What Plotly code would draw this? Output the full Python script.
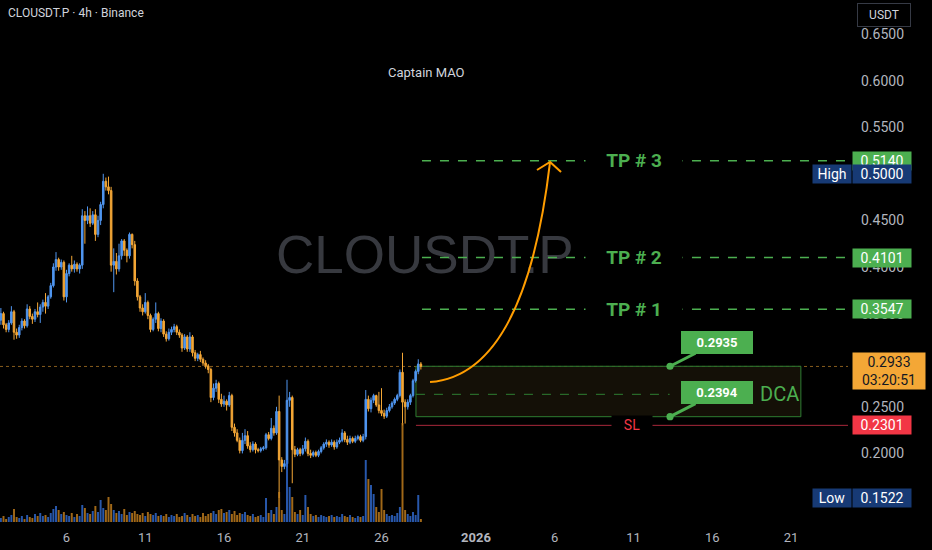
import pandas as pd
import plotly.graph_objects as go

# 4h candles, CLOUSDT.P (Binance)
opens = [
    0.343, 0.350, 0.338, 0.333, 0.340, 0.352, 0.330, 0.327, 0.335, 0.342,
    0.337, 0.355, 0.347, 0.344, 0.352, 0.349, 0.357, 0.362, 0.358, 0.368,
    0.380, 0.400, 0.408, 0.400, 0.405, 0.368, 0.393, 0.402, 0.398, 0.403,
    0.398, 0.402, 0.455, 0.450, 0.455, 0.447, 0.456, 0.435, 0.450, 0.467,
    0.492, 0.486, 0.482, 0.402, 0.406, 0.398, 0.412, 0.428, 0.418, 0.412,
    0.435, 0.424, 0.385, 0.368, 0.356, 0.352, 0.362, 0.348, 0.333, 0.344,
    0.350, 0.334, 0.342, 0.328, 0.323, 0.330, 0.333, 0.336, 0.330, 0.327,
    0.313, 0.325, 0.312, 0.325, 0.308, 0.302, 0.306, 0.301, 0.297, 0.294,
    0.290, 0.260, 0.270, 0.275, 0.258, 0.253, 0.256, 0.252, 0.262, 0.228,
    0.222, 0.214, 0.203, 0.214, 0.219, 0.208, 0.204, 0.210, 0.204, 0.203,
    0.205, 0.206, 0.220, 0.216, 0.227, 0.222, 0.245, 0.193, 0.186, 0.189,
    0.257, 0.260, 0.204, 0.199, 0.204, 0.200, 0.205, 0.213, 0.200, 0.198,
    0.201, 0.198, 0.202, 0.206, 0.210, 0.212, 0.209, 0.212, 0.207, 0.212,
    0.214, 0.222, 0.215, 0.212, 0.216, 0.213, 0.216, 0.218, 0.214, 0.218,
    0.258, 0.248, 0.257, 0.262, 0.252, 0.246, 0.243, 0.240, 0.246, 0.250,
    0.254, 0.258, 0.262, 0.287, 0.255, 0.250, 0.255, 0.262, 0.278, 0.288,
    0.296,
]
highs = [
    0.356, 0.352, 0.340, 0.343, 0.358, 0.354, 0.334, 0.338, 0.345, 0.344,
    0.360, 0.358, 0.350, 0.355, 0.362, 0.360, 0.365, 0.372, 0.370, 0.383,
    0.404, 0.416, 0.410, 0.408, 0.407, 0.397, 0.404, 0.412, 0.407, 0.405,
    0.404, 0.462, 0.460, 0.465, 0.463, 0.460, 0.462, 0.455, 0.470, 0.500,
    0.496, 0.497, 0.486, 0.420, 0.415, 0.425, 0.430, 0.430, 0.420, 0.437,
    0.436, 0.428, 0.388, 0.370, 0.360, 0.372, 0.364, 0.350, 0.346, 0.362,
    0.352, 0.345, 0.344, 0.331, 0.334, 0.336, 0.339, 0.338, 0.333, 0.329,
    0.328, 0.327, 0.330, 0.327, 0.311, 0.308, 0.310, 0.303, 0.300, 0.296,
    0.292, 0.275, 0.279, 0.277, 0.264, 0.262, 0.258, 0.266, 0.264, 0.232,
    0.226, 0.217, 0.222, 0.226, 0.224, 0.212, 0.213, 0.212, 0.206, 0.207,
    0.208, 0.222, 0.223, 0.238, 0.230, 0.250, 0.262, 0.196, 0.193, 0.279,
    0.266, 0.262, 0.208, 0.206, 0.206, 0.209, 0.217, 0.215, 0.204, 0.203,
    0.203, 0.204, 0.208, 0.212, 0.215, 0.214, 0.215, 0.214, 0.215, 0.217,
    0.226, 0.224, 0.219, 0.219, 0.218, 0.219, 0.220, 0.220, 0.221, 0.268,
    0.262, 0.260, 0.264, 0.263, 0.266, 0.270, 0.247, 0.249, 0.253, 0.256,
    0.260, 0.264, 0.290, 0.308, 0.258, 0.258, 0.264, 0.280, 0.290, 0.301,
    0.298,
]
lows = [
    0.338, 0.334, 0.330, 0.330, 0.338, 0.322, 0.323, 0.324, 0.332, 0.334,
    0.335, 0.344, 0.339, 0.341, 0.346, 0.340, 0.352, 0.350, 0.355, 0.366,
    0.378, 0.396, 0.396, 0.397, 0.364, 0.362, 0.390, 0.395, 0.394, 0.395,
    0.393, 0.398, 0.425, 0.446, 0.443, 0.445, 0.428, 0.432, 0.445, 0.463,
    0.482, 0.478, 0.395, 0.373, 0.392, 0.395, 0.408, 0.412, 0.405, 0.409,
    0.420, 0.380, 0.364, 0.352, 0.348, 0.350, 0.344, 0.330, 0.331, 0.340,
    0.331, 0.330, 0.325, 0.320, 0.321, 0.327, 0.330, 0.327, 0.324, 0.309,
    0.311, 0.309, 0.309, 0.304, 0.299, 0.299, 0.298, 0.294, 0.291, 0.286,
    0.255, 0.257, 0.266, 0.254, 0.250, 0.250, 0.246, 0.250, 0.224, 0.218,
    0.212, 0.200, 0.200, 0.210, 0.205, 0.201, 0.202, 0.200, 0.201, 0.201,
    0.203, 0.204, 0.214, 0.214, 0.219, 0.220, 0.1522, 0.180, 0.183, 0.185,
    0.250, 0.168, 0.196, 0.197, 0.197, 0.198, 0.202, 0.197, 0.195, 0.196,
    0.196, 0.196, 0.200, 0.204, 0.207, 0.206, 0.207, 0.204, 0.205, 0.210,
    0.212, 0.212, 0.209, 0.210, 0.211, 0.211, 0.214, 0.212, 0.212, 0.215,
    0.245, 0.244, 0.254, 0.250, 0.243, 0.240, 0.237, 0.238, 0.244, 0.248,
    0.252, 0.256, 0.260, 0.230, 0.232, 0.247, 0.252, 0.260, 0.276, 0.285,
    0.290,
]
closes = [
    0.350, 0.338, 0.333, 0.340, 0.352, 0.330, 0.327, 0.335, 0.342, 0.337,
    0.355, 0.347, 0.344, 0.352, 0.349, 0.357, 0.362, 0.358, 0.368, 0.380,
    0.400, 0.408, 0.400, 0.405, 0.368, 0.393, 0.402, 0.398, 0.403, 0.398,
    0.402, 0.455, 0.450, 0.455, 0.447, 0.456, 0.435, 0.450, 0.467, 0.492,
    0.486, 0.482, 0.402, 0.406, 0.398, 0.412, 0.428, 0.418, 0.412, 0.435,
    0.424, 0.385, 0.368, 0.356, 0.352, 0.362, 0.348, 0.333, 0.344, 0.350,
    0.334, 0.342, 0.328, 0.323, 0.330, 0.333, 0.336, 0.330, 0.327, 0.313,
    0.325, 0.312, 0.325, 0.308, 0.302, 0.306, 0.301, 0.297, 0.294, 0.290,
    0.260, 0.270, 0.275, 0.258, 0.253, 0.256, 0.252, 0.262, 0.228, 0.222,
    0.214, 0.203, 0.214, 0.219, 0.208, 0.204, 0.210, 0.204, 0.203, 0.205,
    0.206, 0.220, 0.216, 0.227, 0.222, 0.245, 0.193, 0.186, 0.189, 0.257,
    0.260, 0.204, 0.199, 0.204, 0.200, 0.205, 0.213, 0.200, 0.198, 0.201,
    0.198, 0.202, 0.206, 0.210, 0.212, 0.209, 0.212, 0.207, 0.212, 0.214,
    0.222, 0.215, 0.212, 0.216, 0.213, 0.216, 0.218, 0.214, 0.218, 0.258,
    0.248, 0.257, 0.262, 0.252, 0.246, 0.243, 0.240, 0.246, 0.250, 0.254,
    0.258, 0.262, 0.287, 0.255, 0.250, 0.255, 0.262, 0.278, 0.288, 0.296,
    0.2933,
]
volumes = [  # thousands
    4, 6, 3, 5, 7, 13, 5, 4, 6, 3,
    7, 5, 4, 8, 6, 9, 6, 7, 5, 9,
    13, 16, 12, 8, 10, 7, 6, 9, 5, 8,
    6, 17, 14, 9, 8, 11, 16, 10, 22, 14,
    12, 25, 18, 12, 9, 11, 8, 13, 7, 10,
    9, 11, 8, 7, 9, 6, 10, 8, 7, 9,
    6, 7, 6, 8, 5, 7, 6, 8, 5, 6,
    9, 7, 5, 8, 6, 7, 5, 9, 6, 8,
    9, 11, 8, 12, 13, 9, 10, 12, 8, 11,
    7, 9, 8, 10, 7, 6, 8, 5, 6, 7,
    5, 24, 9, 12, 8, 15, 30, 12, 8, 62,
    35, 25, 10, 8, 12, 7, 27, 15, 8, 6,
    7, 5, 7, 6, 5, 6, 7, 5, 6, 5,
    8, 6, 5, 7, 5, 4, 6, 5, 6, 62,
    43, 37, 28, 15, 10, 33, 12, 8, 6, 7,
    6, 9, 15, 99, 12, 8, 6, 10, 7, 27,
    3,
]

price_ticks = [0.20, 0.25, 0.30, 0.35, 0.40, 0.45, 0.50, 0.55, 0.60, 0.65]
date_ticks = ["2025-12-06", "2025-12-11", "2025-12-16", "2025-12-21", "2025-12-26",
              "2026-01-01", "2026-01-06", "2026-01-11", "2026-01-16", "2026-01-21"]
date_labels = ["6", "11", "16", "21", "26", "<b>2026</b>", "6", "11", "16", "21"]

# trade plan levels
tp_levels = [0.5140, 0.4101, 0.3547]
tp_names = ["TP # 3", "TP # 2", "TP # 1"]
entry_top = 0.2935
entry_bottom = 0.2394
dca_mid = 0.2634
stop_loss = 0.2301
last_price = 0.2933
high_price = 0.5000
low_price = 0.1522

BLUE = "#5096f0"
ORANGE = "#f4a736"
GREEN = "#4caf50"
RED = "#f23645"
NAVY = "#173a75"

X_START = "2025-12-01 18:40"
X_END = "2026-01-24 14:50"
PLAN_START = "2025-12-28 04:30"

times = pd.date_range("2025-12-01 20:00", periods=len(closes), freq="4h")
vol_colors = ["rgba(50,110,215,0.8)" if c >= o else "rgba(200,130,30,0.8)"
              for o, c in zip(opens, closes)]

fig = go.Figure()
fig.add_trace(go.Bar(x=times, y=volumes, yaxis="y2", marker_color=vol_colors,
                     marker_line_width=0, width=4 * 3600 * 1000 * 0.75, hoverinfo="skip"))
fig.add_trace(go.Scatter(x=["2025-12-28 18:00"], y=[0.4075], mode="text", text=["CLOUSDT.P"],
                         textfont=dict(family="Liberation Sans", size=53, color="#37393f"),
                         hoverinfo="skip"))
fig.add_trace(go.Candlestick(
    x=times, open=opens, high=highs, low=lows, close=closes,
    increasing=dict(line=dict(color=BLUE, width=1), fillcolor=BLUE),
    decreasing=dict(line=dict(color=ORANGE, width=1), fillcolor=ORANGE),
    whiskerwidth=0,
))

shapes = []
annotations = []

# last price dotted line
shapes.append(dict(type="line", xref="x", yref="y", x0=X_START, x1=X_END, y0=last_price, y1=last_price,
                   line=dict(color="rgba(246,169,52,0.55)", width=1, dash="dot"), layer="below"))

# DCA zone
shapes.append(dict(type="rect", xref="x", yref="y", x0=PLAN_START, x1="2026-01-21 15:00",
                   y0=entry_bottom, y1=entry_top, line=dict(color="#2e7d32", width=1),
                   fillcolor="rgba(22,18,8,0.9)", layer="below"))
shapes.append(dict(type="line", xref="x", yref="y", x0=PLAN_START, x1="2026-01-13 07:00",
                   y0=dca_mid, y1=dca_mid, line=dict(color="#2e7d32", width=1, dash="dash")))
annotations.append(dict(x="2026-01-20 06:00", y=dca_mid, xref="x", yref="y", text="DCA",
                        showarrow=False, font=dict(color=GREEN, size=20, family="Roboto")))

# take profits
for lvl, name in zip(tp_levels, tp_names):
    shapes.append(dict(type="line", xref="x", yref="y", x0="2025-12-28 13:40", x1=X_END, y0=lvl, y1=lvl,
                       line=dict(color=GREEN, width=1.5, dash="dash")))
    annotations.append(dict(x="2026-01-11 01:00", y=lvl, xref="x", yref="y", text="<b>%s</b>" % name,
                            showarrow=False, bgcolor="#000000", width=94,
                            font=dict(color=GREEN, size=19, family="Roboto"),
                            xanchor="center", yanchor="middle"))

# stop loss
shapes.append(dict(type="line", xref="x", yref="y", x0=PLAN_START, x1=X_END, y0=stop_loss, y1=stop_loss,
                   line=dict(color="#a8283a", width=1)))
annotations.append(dict(x="2026-01-10 21:00", y=stop_loss, xref="x", yref="y", text="SL", showarrow=False,
                        bgcolor="#000000", width=38, font=dict(color=RED, size=14, family="Roboto")))

# entry callouts
for lvl in [entry_top, entry_bottom]:
    annotations.append(dict(x="2026-01-13 07:40", y=lvl, xref="x", yref="y", text="<b>%.4f</b>" % lvl,
                            showarrow=True, arrowhead=6, arrowsize=0.6, arrowwidth=3, arrowcolor=GREEN,
                            ax=47, ay=-24, standoff=0, bgcolor=GREEN, bordercolor=GREEN, borderpad=3,
                            width=64, font=dict(color="#ffffff", size=13, family="Roboto")))

# orange projection arrow
shapes.append(dict(type="path", xref="x", yref="y",
                   path="M 2025-12-29_01:55,0.2766 Q 2026-01-04_02:40,0.2841 2026-01-05_16:50,0.5127",
                   line=dict(color="#ff9d00", width=2)))
shapes.append(dict(type="path", xref="x", yref="y",
                   path="M 2026-01-04_20:55,0.5041 L 2026-01-05_16:50,0.5127 L 2026-01-06_09:35,0.5019",
                   line=dict(color="#ff9d00", width=2)))


# right axis price tags
def tag(price, text, bg, fg="#ffffff", **kw):
    d = dict(x=1, xref="paper", y=price, yref="y", xanchor="left", xshift=4, text=text,
             showarrow=False, bgcolor=bg, font=dict(color=fg, size=14, family="Roboto"),
             width=56, borderpad=1, align="center")
    d.update(kw)
    annotations.append(d)


for lvl in tp_levels:
    tag(lvl, "%.4f" % lvl, GREEN)
tag(high_price, "%.4f" % high_price, NAVY)
tag(low_price, "%.4f" % low_price, NAVY)
tag(stop_loss, "%.4f" % stop_loss, RED)
tag(last_price, "%.4f<br>03:20:51" % last_price, ORANGE, fg="#131722", width=70, yshift=-5)
annotations.append(dict(x=1, xref="paper", y=high_price, yref="y", xanchor="right", xshift=4, text="High",
                        showarrow=False, bgcolor=NAVY, width=36, borderpad=1,
                        font=dict(color="#ffffff", size=14, family="Roboto")))
annotations.append(dict(x=1, xref="paper", y=low_price, yref="y", xanchor="right", xshift=4, text="Low",
                        showarrow=False, bgcolor=NAVY, width=36, borderpad=1,
                        font=dict(color="#ffffff", size=14, family="Roboto")))

# header texts
annotations.append(dict(x=0.007, y=0.975, xref="paper", yref="paper", xanchor="left", yanchor="middle",
                        text="CLOUSDT.P · 4h · Binance", showarrow=False,
                        font=dict(color="#d1d4dc", size=12, family="Roboto")))
annotations.append(dict(x=0.5035, y=0.862, xref="paper", yref="paper", xanchor="center", yanchor="middle",
                        text="Captain MAO", showarrow=False,
                        font=dict(color="#d1d4dc", size=13, family="Roboto")))
annotations.append(dict(x=1.0425, y=0.971, xref="paper", yref="paper", xanchor="center", yanchor="middle",
                        text="USDT", showarrow=False,
                        bordercolor="#363a45", borderwidth=1, borderpad=4, width=44,
                        font=dict(color="#d1d4dc", size=12, family="Roboto")))

fig.update_layout(
    width=932, height=550,
    margin=dict(l=0, r=84, t=0, b=28),
    paper_bgcolor="#000000", plot_bgcolor="#000000",
    showlegend=False,
    boxgap=0.15,
    font=dict(family="Roboto", color="#b2b5be", size=13),
    xaxis=dict(type="date", range=[X_START, X_END], rangeslider=dict(visible=False),
               showgrid=False, zeroline=False, showline=False,
               tickvals=date_ticks, ticktext=date_labels, ticklabelstandoff=6),
    yaxis=dict(side="right", range=[0.1264, 0.6865], tickvals=price_ticks, tickformat=".4f",
               tickfont=dict(size=14), showgrid=False, zeroline=False, showline=False,
               ticklabelstandoff=12),
    yaxis2=dict(overlaying="y", range=[0, 522], visible=False),
    shapes=shapes,
    annotations=annotations,
)

fig.write_html("out.html", config={"displayModeBar": False},
               post_script="document.body.style.margin='0';document.body.style.background='#000';")
